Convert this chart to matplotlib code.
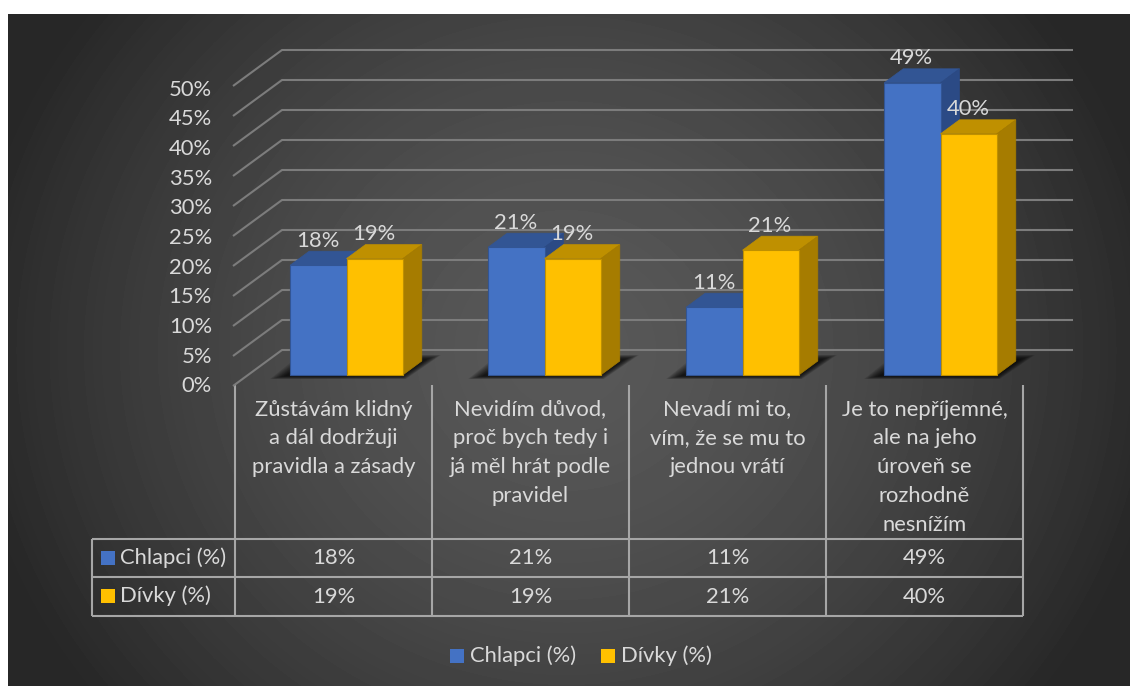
from __future__ import annotations

import numpy as np
import matplotlib
matplotlib.use("Agg")
import matplotlib.pyplot as plt
from matplotlib.patches import Polygon, Rectangle

W, H = 1130, 686

categories = [
    "Zůstávám klidný\na dál dodržuji\npravidla a zásady",
    "Nevidím důvod,\nproč bych tedy i\njá měl hrát podle\npravidel",
    "Nevadí mi to,\nvím, že se mu to\njednou vrátí",
    "Je to nepříjemné,\nale na jeho\núroveň se\nrozhodně\nnesnížím",
]
series_names = ["Chlapci (%)", "Dívky (%)"]
boys = [18.3, 21.3, 11.3, 48.7]
girls = [19.4, 19.4, 20.8, 40.2]
ticks = [0, 5, 10, 15, 20, 25, 30, 35, 40, 45, 50]

BLUE = ("#4472C4", "#325594", "#2B4A85")
GOLD = ("#FFC000", "#BF9000", "#A67C00")
TXT = "#D9D9D9"
LINE = "#A6A6A6"
GRID = "#7C7C7C"
FONT = "Lato"
FS = 15.8

plt.rcParams["font.family"] = FONT

fig = plt.figure(figsize=(W / 100, H / 100), dpi=100, facecolor="white")

# pixel axes: background, table and legend
px = fig.add_axes([0, 0, 1, 1], zorder=0)
px.axis("off")

yy, xx = np.mgrid[14:686, 8:1130]
r = np.hypot((xx - 566) / 600, (yy - 350) / 560)
bg = np.clip(0.345 - 0.19 * r**1.6, 0.155, 1)
px.imshow(bg, cmap="gray", vmin=0, vmax=1, extent=(8, 1130, 686, 14), aspect="auto",
          interpolation="bilinear")
px.set_xlim(0, W)
px.set_ylim(H, 0)

# chart axes: x in categories, y in percent (6 px per 1 %, bar floor at y=375 px)
CAT_W = 198.0
PX_PER_PCT = 6.0
ax = fig.add_axes([0, 0, 1, 1], zorder=1)
ax.set_xlim(-235 / CAT_W, (W - 235) / CAT_W)
ax.set_ylim((375 - H) / PX_PER_PCT, 375 / PX_PER_PCT)
ax.axis("off")
ax.patch.set_alpha(0)

dx = 19 / CAT_W
dy = 14 / PX_PER_PCT
bar_w = 56.3 / CAT_W
x0 = np.arange(len(categories)) + 55.2 / CAT_W

# gridlines with the short floor/wall return on the left
for v in ticks:
    front_y = v + (375 - 386) / PX_PER_PCT
    back_y = v + (375 - 350) / PX_PER_PCT
    ax.plot([(233 - 235) / CAT_W, (282 - 235) / CAT_W, (1073 - 235) / CAT_W],
            [front_y, back_y, back_y], color=GRID, lw=1.5, zorder=1, solid_capstyle="butt")
    px.text(212, 385 - 5.94 * v + 1.5, f"{v}%", color=TXT, fontsize=FS, ha="right", va="center")

# soft shadow under each bar pair
for x in x0:
    for k in range(10):
        g = k * 1.6
        shadow = Polygon(
            [(x - (20 - g) / CAT_W, -(4 - g * 0.2) / PX_PER_PCT),
             (x + 2 * bar_w + (3 - g * 0.3) / CAT_W, -(4 - g * 0.2) / PX_PER_PCT),
             (x + 2 * bar_w + (38 - g) / CAT_W, (20 - g * 0.3) / PX_PER_PCT),
             (x + (10 + g) / CAT_W, (20 - g * 0.3) / PX_PER_PCT)],
            closed=True, fc="black", ec="none", alpha=0.12, zorder=2)
        ax.add_patch(shadow)


def bar3d(xs, vals, cols, z):
    ax.bar(xs, vals, width=bar_w, align="edge", color=cols[0], edgecolor=cols[1], lw=0.8, zorder=z + 0.2)
    for x, v in zip(xs, vals):
        ax.add_patch(Polygon([(x, v), (x + bar_w, v), (x + bar_w + dx, v + dy), (x + dx, v + dy)],
                             closed=True, fc=cols[1], ec=cols[1], lw=0.5, zorder=z))
        ax.add_patch(Polygon([(x + bar_w, 0), (x + bar_w + dx, dy), (x + bar_w + dx, v + dy), (x + bar_w, v)],
                             closed=True, fc=cols[2], ec=cols[2], lw=0.5, zorder=z))


bar3d(x0, boys, BLUE, 3)
bar3d(x0 + bar_w, girls, GOLD, 4)

for x, a, b in zip(x0, boys, girls):
    ax.annotate(f"{a:.0f}%", (x + bar_w / 2, a), xytext=(-0.5, 17.7), textcoords="offset points",
                ha="center", va="center", color=TXT, fontsize=FS, zorder=6)
    ax.annotate(f"{b:.0f}%", (x + 1.5 * bar_w, b), xytext=(-0.5, 17.7), textcoords="offset points",
                ha="center", va="center", color=TXT, fontsize=FS, zorder=6)

# data table
col_x = [235, 432, 629, 826, 1023]
for x in col_x:
    px.plot([x, x], [385, 616], color=LINE, lw=1.5, solid_capstyle="butt")
px.plot([92, 92], [539, 616], color=LINE, lw=1.5, solid_capstyle="butt")
for y in [539, 577, 616]:
    px.plot([92, 1023], [y, y], color=LINE, lw=1.5, solid_capstyle="butt")

for i, label in enumerate(categories):
    cx = (col_x[i] + col_x[i + 1]) / 2
    px.text(cx, 399.5, label, color=TXT, fontsize=FS, ha="center", va="top", linespacing=1.55)
    px.text(cx, 558, f"{boys[i]:.0f}%", color=TXT, fontsize=FS, ha="center", va="center")
    px.text(cx, 597, f"{girls[i]:.0f}%", color=TXT, fontsize=FS, ha="center", va="center")

for y, name, col in zip([558, 596], series_names, [BLUE[0], GOLD[0]]):
    px.add_patch(Rectangle((101, y - 7), 14, 14, fc=col, ec="none"))
    px.text(120, y, name, color=TXT, fontsize=FS, ha="left", va="center")

# legend at the bottom
for x, name, col in zip([450, 601], series_names, [BLUE[0], GOLD[0]]):
    px.add_patch(Rectangle((x, 649), 14, 14, fc=col, ec="none"))
    px.text(x + 20, 656, name, color=TXT, fontsize=FS, ha="left", va="center")

fig.savefig("out.png", dpi=100, facecolor="white")
